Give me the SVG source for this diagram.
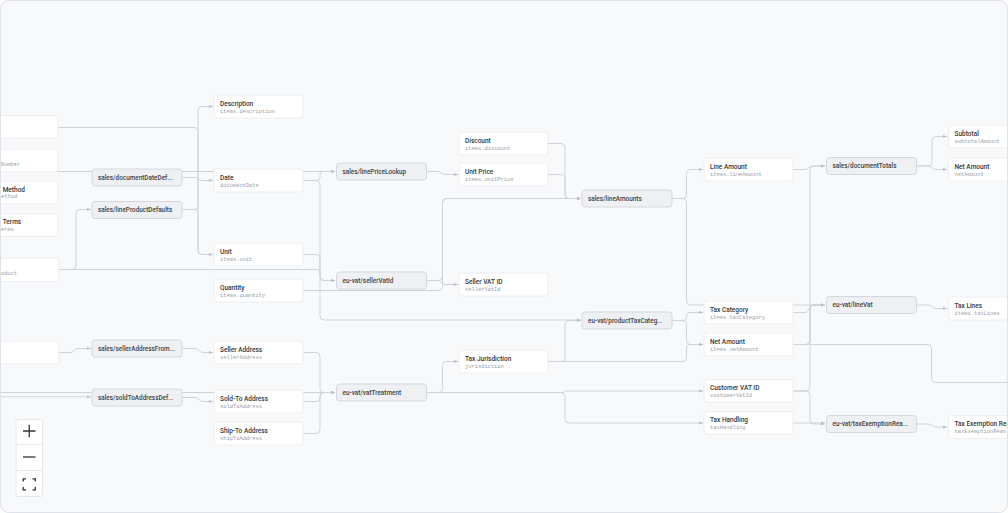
<svg xmlns="http://www.w3.org/2000/svg" width="1008" height="513" viewBox="0 0 1008 513">
<defs>
<style>
.bg{fill:#f8f9fb}
.frame{fill:none;stroke:#dfe2e6;stroke-width:1}
.e{fill:none;stroke:#cfd3d8;stroke-width:1}
.a{marker-end:url(#arr)}
.f{fill:#ffffff;stroke:#eceef1;stroke-width:1}
.pr{fill:#eef0f3;stroke:#d4d8dd;stroke-width:1}
.t{font-family:Roboto,"Liberation Sans",sans-serif;font-weight:500;font-size:6.5px;fill:#33373b}
.s{font-family:"Liberation Mono","DejaVu Sans Mono",monospace;font-size:5.4px;fill:#9aa0a6}
.p{font-family:Roboto,"Liberation Sans",sans-serif;font-weight:500;font-size:6.4px;fill:#3d4247}
.ctl{fill:#ffffff;stroke:#e5e7eb;stroke-width:1}
.ic{fill:none;stroke:#333333;stroke-width:1.3}
</style>
<marker id="arr" markerWidth="4" markerHeight="4" refX="4" refY="2" orient="auto" markerUnits="userSpaceOnUse">
<path d="M0,0.4 L4,2 L0,3.6 Z" fill="#bcc1c7"/>
</marker>
<clipPath id="cv"><rect x="0.5" y="0.5" width="1007" height="512" rx="8"/></clipPath>
</defs>
<rect class="bg" x="0.5" y="0.5" width="1007" height="512" rx="8"/>
<g clip-path="url(#cv)">
<g id="connectors">
<path class="e" d="M58,127.5 H194 Q198,127.5 198,131.5 V250.5 Q198,254.5 202,254.5 H213"/>
<path class="e a" d="M182,209.5 H194 Q198,209.5 198,205.5 V110.5 Q198,106.5 202,106.5 H213"/>
<path class="e a" d="M182,209.5 H194 Q198,209.5 198,213.5 V250.5 Q198,254.5 202,254.5 H213"/>
<path class="e a" d="M182,177.5 H195 C199,177.5 199,180.5 203,180.5 H213"/>
<path class="e a" d="M58,171.5 H335"/>
<path class="e a" d="M58,269.5 H72 Q76,269.5 76,265.5 V213.5 Q76,209.5 80,209.5 H91"/>
<path class="e a" d="M303,180.5 H317 Q320,180.5 320,177.5 V174.5 Q320,171.5 323,171.5 H335"/>
<path class="e a" d="M303,180.5 H316 Q320,180.5 320,184.5 V316 Q320,320 324,320 H581"/>
<path class="e a" d="M303,254.5 H316 Q320,254.5 320,258.5 V276.5 Q320,280.5 324,280.5 H335"/>
<path class="e a" d="M58,269.5 H316 Q320,269.5 320,273.5 V276.5 Q320,280.5 324,280.5 H335"/>
<path class="e a" d="M303,290.5 H438.5 Q442.5,290.5 442.5,286.5 V202.5 Q442.5,198.5 446.5,198.5 H581"/>
<path class="e a" d="M303,352.5 H316 Q320,352.5 320,356.5 V388.5 Q320,392.5 324,392.5 H335"/>
<path class="e a" d="M303,401.5 H317 Q320,401.5 320,398.5 V395.5 Q320,392.5 323,392.5 H335"/>
<path class="e a" d="M303,433.5 H316 Q320,433.5 320,429.5 V396.5 Q320,392.5 324,392.5 H335"/>
<path class="e a" d="M0,392.5 H335"/>
<path class="e a" d="M0,396.8 H91"/>
<path class="e a" d="M58,352.5 H70 C74,352.5 74,348.5 78,348.5 H91"/>
<path class="e a" d="M182,348.5 H195 C199,348.5 199,352.5 203,352.5 H213"/>
<path class="e a" d="M182,397.5 H195 C199,397.5 199,401.5 203,401.5 H213"/>
<path class="e a" d="M427,171.5 H437 C441,171.5 441,174.5 445,174.5 H458"/>
<path class="e a" d="M427,280.5 H437 C441,280.5 441,284.5 445,284.5 H458"/>
<path class="e a" d="M427,280.5 H438.5 Q442.5,280.5 442.5,276.5 V202.5 Q442.5,198.5 446.5,198.5 H581"/>
<path class="e a" d="M427,392.5 H438.5 Q442.5,392.5 442.5,388.5 V365.5 Q442.5,361.5 446.5,361.5 H458"/>
<path class="e a" d="M427,392.5 H562 Q565,392.5 565,391 Q565,391 568,391 H703"/>
<path class="e a" d="M427,392.5 H561 Q565,392.5 565,396.5 V419 Q565,423 569,423 H703"/>
<path class="e a" d="M548,143.5 H561 Q565,143.5 565,147.5 V194.5 Q565,198.5 569,198.5 H581"/>
<path class="e a" d="M548,174.5 H561 Q565,174.5 565,178.5 V194.5 Q565,198.5 569,198.5 H581"/>
<path class="e a" d="M548,361.5 H561 Q565,361.5 565,357.5 V324.5 Q565,320.5 569,320.5 H581"/>
<path class="e a" d="M548,361.5 H682.5 Q686.5,361.5 686.5,357.5 V348.5 Q686.5,344.5 690.5,344.5 H703"/>
<path class="e a" d="M671,198.5 H682.5 Q686.5,198.5 686.5,194.5 V173.5 Q686.5,169.5 690.5,169.5 H703"/>
<path class="e a" d="M671,198.5 H682.5 Q686.5,198.5 686.5,202.5 V301 Q686.5,305 690.5,305 H825"/>
<path class="e a" d="M671,320.5 H683 Q686.5,320.5 686.5,317 V316 Q686.5,312.5 690,312.5 H703"/>
<path class="e a" d="M671,320.5 H682.5 Q686.5,320.5 686.5,324.5 V340.5 Q686.5,344.5 690.5,344.5 H703"/>
<path class="e a" d="M793,169.5 H805 C809,169.5 809,166 813,166 H825"/>
<path class="e a" d="M793,312.5 H805 C809,312.5 809,305 813,305 H825"/>
<path class="e a" d="M793,344.5 H806 Q810,344.5 810,340.5 V309 Q810,305 814,305 H825"/>
<path class="e a" d="M793,344.5 H806 Q810,344.5 810,340.5 V170 Q810,166 814,166 H825"/>
<path class="e" d="M793,344.5 H927.5 Q931.5,344.5 931.5,348.5 V378.5 Q931.5,382.5 935.5,382.5 H1008"/>
<path class="e a" d="M793,391 H806 Q810,391 810,387 V309 Q810,305 814,305 H825"/>
<path class="e a" d="M793,391 H806 Q810,391 810,395 V420 Q810,424 814,424 H825"/>
<path class="e a" d="M793,423 H825"/>
<path class="e a" d="M916,166 H928 Q932,166 932,162 V140.5 Q932,136.5 936,136.5 H947"/>
<path class="e a" d="M916,166 H928 C932,166 932,169.5 936,169.5 H947"/>
<path class="e a" d="M916,305 H928 C932,305 932,308.5 936,308.5 H947"/>
<path class="e a" d="M916,424 H928 C932,424 932,427 936,427 H947"/>
</g>
<g id="n-l1"><rect class="f" x="-31" y="115.5" width="89" height="23" rx="3"/></g>
<g id="n-l2"><rect class="f" x="-31" y="149" width="89" height="23" rx="3"/><text class="s" x="0.5" y="166">Number</text></g>
<g id="n-l3"><rect class="f" x="-31" y="181" width="89" height="23" rx="3"/><text class="t" x="2.7" y="191.5">Method</text><text class="s" x="1" y="198">ethod</text></g>
<g id="n-l4"><rect class="f" x="-31" y="213.5" width="89" height="23" rx="3"/><text class="t" x="2.7" y="224">Terms</text><text class="s" x="0.7" y="230.5">erms</text></g>
<g id="n-l5"><rect class="f" x="-31" y="258" width="90" height="23.5" rx="3"/><text class="s" x="0.7" y="275">oduct</text></g>
<g id="n-l6"><rect class="f" x="-31" y="341" width="90" height="23" rx="3"/></g>

<g id="n-docdate"><rect class="pr" x="92" y="169" width="90" height="17" rx="3"/><text class="p" x="98" y="179.8">sales/documentDateDef...</text></g>
<g id="n-lineprod"><rect class="pr" x="92" y="201.5" width="90" height="17" rx="3"/><text class="p" x="98" y="212.3">sales/lineProductDefaults</text></g>
<g id="n-selleraddr"><rect class="pr" x="92" y="340" width="90" height="17" rx="3"/><text class="p" x="98" y="350.8">sales/sellerAddressFrom...</text></g>
<g id="n-soldto"><rect class="pr" x="92" y="389" width="90" height="17" rx="3"/><text class="p" x="98" y="399.8">sales/soldToAddressDef...</text></g>

<g id="n-description"><rect class="f" x="214" y="95" width="89" height="23" rx="3"/><text class="t" x="220" y="105.8">Description</text><text class="s" x="220" y="112.5">items.description</text></g>
<g id="n-date"><rect class="f" x="214" y="169" width="89" height="23" rx="3"/><text class="t" x="220" y="179.8">Date</text><text class="s" x="220" y="186.5">documentDate</text></g>
<g id="n-unit"><rect class="f" x="214" y="243" width="89" height="23" rx="3"/><text class="t" x="220" y="253.8">Unit</text><text class="s" x="220" y="260.5">items.unit</text></g>
<g id="n-quantity"><rect class="f" x="214" y="279" width="89" height="23" rx="3"/><text class="t" x="220" y="289.8">Quantity</text><text class="s" x="220" y="296.5">items.quantity</text></g>
<g id="n-selleraddress"><rect class="f" x="214" y="341" width="89" height="23" rx="3"/><text class="t" x="220" y="351.8">Seller Address</text><text class="s" x="220" y="358.5">sellerAddress</text></g>
<g id="n-soldtoaddress"><rect class="f" x="214" y="390" width="89" height="23" rx="3"/><text class="t" x="220" y="400.8">Sold-To Address</text><text class="s" x="220" y="407.5">soldToAddress</text></g>
<g id="n-shiptoaddress"><rect class="f" x="214" y="422" width="89" height="23" rx="3"/><text class="t" x="220" y="432.8">Ship-To Address</text><text class="s" x="220" y="439.5">shipToAddress</text></g>

<g id="n-linepricelookup"><rect class="pr" x="336.5" y="163" width="90" height="17" rx="3"/><text class="p" x="342.5" y="173.8">sales/linePriceLookup</text></g>
<g id="n-sellervatid"><rect class="pr" x="336.5" y="272" width="90" height="17" rx="3"/><text class="p" x="342.5" y="282.8">eu-vat/sellerVatId</text></g>
<g id="n-vattreatment"><rect class="pr" x="336.5" y="384" width="90" height="17" rx="3"/><text class="p" x="342.5" y="394.8">eu-vat/vatTreatment</text></g>

<g id="n-discount"><rect class="f" x="459" y="132" width="89" height="23" rx="3"/><text class="t" x="465" y="142.8">Discount</text><text class="s" x="465" y="149.5">items.discount</text></g>
<g id="n-unitprice"><rect class="f" x="459" y="163" width="89" height="23" rx="3"/><text class="t" x="465" y="173.8">Unit Price</text><text class="s" x="465" y="180.5">items.unitPrice</text></g>
<g id="n-sellervatidfield"><rect class="f" x="459" y="273" width="89" height="23" rx="3"/><text class="t" x="465" y="283.8">Seller VAT ID</text><text class="s" x="465" y="290.5">sellerVatId</text></g>
<g id="n-taxjurisdiction"><rect class="f" x="459" y="350" width="89" height="23" rx="3"/><text class="t" x="465" y="360.8">Tax Jurisdiction</text><text class="s" x="465" y="367.5">jurisdiction</text></g>

<g id="n-lineamounts"><rect class="pr" x="582" y="190" width="90" height="17" rx="3"/><text class="p" x="588" y="200.8">sales/lineAmounts</text></g>
<g id="n-producttaxcateg"><rect class="pr" x="582" y="312" width="90" height="17" rx="3"/><text class="p" x="588" y="322.8">eu-vat/productTaxCateg...</text></g>

<g id="n-lineamount"><rect class="f" x="704" y="158" width="89" height="23" rx="3"/><text class="t" x="710" y="168.8">Line Amount</text><text class="s" x="710" y="175.5">items.lineAmount</text></g>
<g id="n-taxcategory"><rect class="f" x="704" y="301" width="89" height="23" rx="3"/><text class="t" x="710" y="311.8">Tax Category</text><text class="s" x="710" y="318.5">items.taxCategory</text></g>
<g id="n-netamountitem"><rect class="f" x="704" y="333" width="89" height="23" rx="3"/><text class="t" x="710" y="343.8">Net Amount</text><text class="s" x="710" y="350.5">items.netAmount</text></g>
<g id="n-customervatid"><rect class="f" x="704" y="379.5" width="89" height="23" rx="3"/><text class="t" x="710" y="390.3">Customer VAT ID</text><text class="s" x="710" y="397">customerVatId</text></g>
<g id="n-taxhandling"><rect class="f" x="704" y="411.5" width="89" height="23" rx="3"/><text class="t" x="710" y="422.3">Tax Handling</text><text class="s" x="710" y="429">taxHandling</text></g>

<g id="n-documenttotals"><rect class="pr" x="826.5" y="157.5" width="90" height="17" rx="3"/><text class="p" x="832.5" y="168.3">sales/documentTotals</text></g>
<g id="n-linevat"><rect class="pr" x="826.5" y="296.5" width="90" height="17" rx="3"/><text class="p" x="832.5" y="307.3">eu-vat/lineVat</text></g>
<g id="n-taxexemption"><rect class="pr" x="826.5" y="415.5" width="90" height="17" rx="3"/><text class="p" x="832.5" y="426.3">eu-vat/taxExemptionRea...</text></g>

<g id="n-subtotal"><rect class="f" x="948.5" y="125" width="89" height="23" rx="3"/><text class="t" x="954.5" y="135.8">Subtotal</text><text class="s" x="954.5" y="142.5">subtotalAmount</text></g>
<g id="n-netamount"><rect class="f" x="948.5" y="158" width="89" height="23" rx="3"/><text class="t" x="954.5" y="168.8">Net Amount</text><text class="s" x="954.5" y="175.5">netAmount</text></g>
<g id="n-taxlines"><rect class="f" x="948.5" y="297" width="89" height="23" rx="3"/><text class="t" x="954.5" y="307.8">Tax Lines</text><text class="s" x="954.5" y="314.5">items.taxLines</text></g>
<g id="n-taxexemptionreason"><rect class="f" x="948.5" y="415.5" width="89" height="23" rx="3"/><text class="t" x="954.5" y="426.3">Tax Exemption Rea</text><text class="s" x="954.5" y="433">taxExemptionReas</text></g>
</g>
<g id="controls">
<rect class="ctl" x="16" y="419.5" width="26.5" height="77" rx="2"/>
<line x1="16" y1="444.5" x2="42.5" y2="444.5" stroke="#e5e7eb"/>
<line x1="16" y1="470.5" x2="42.5" y2="470.5" stroke="#e5e7eb"/>
<path class="ic" d="M23,431 H35.5 M29.25,424.8 V437.2"/>
<path class="ic" d="M23,457 H35.5"/>
<path class="ic" d="M23.2,481.5 V478.8 H26 M32.5,478.8 H35.3 V481.5 M35.3,487 V489.8 H32.5 M26,489.8 H23.2 V487"/>
</g>
<rect class="frame" x="0.5" y="0.5" width="1007" height="512" rx="8"/>
</svg>
